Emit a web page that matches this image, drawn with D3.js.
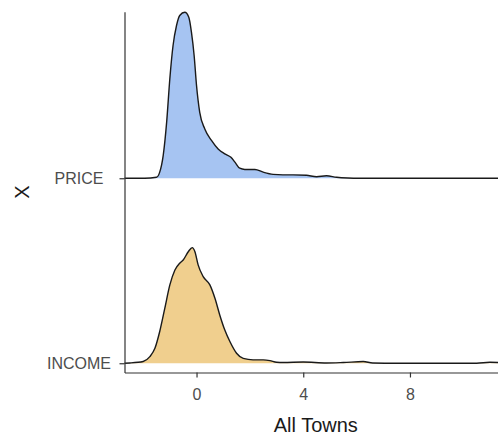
<!DOCTYPE html>
<html><head><meta charset="utf-8">
<script src="https://cdn.jsdelivr.net/npm/d3@7"></script>
<style>body{margin:0;background:#fff}svg{display:block}text{font-family:"Liberation Sans",Arial,sans-serif}</style>
</head><body>
<svg id="c" width="498" height="435"></svg>
<script>
const categories = ["INCOME", "PRICE"];
const colors = ["#f0cf8e", "#a6c4f2"];
const xTicks = [0, 4, 8];
const xTitle = "All Towns";
const yTitle = "X";
// density curves: [x, density]
const incomeDensity = [
  [-2.7,0],[-2.5,0.001],[-2.0,0.007],[-1.75,0.027],[-1.56,0.061],[-1.38,0.130],[-1.19,0.225],
  [-1.0,0.321],[-0.81,0.382],[-0.63,0.410],[-0.5,0.423],[-0.31,0.457],[-0.16,0.474],[-0.06,0.457],
  [0.06,0.403],[0.25,0.355],[0.5,0.321],[0.69,0.266],[0.87,0.198],[1.06,0.136],[1.25,0.089],
  [1.5,0.041],[1.75,0.020],[2.12,0.014],[2.5,0.014],[2.75,0.011],[3.0,0.004],[3.25,0.003],
  [4.0,0.005],[4.87,0.001],[5.5,0.003],[6.25,0.007],[6.6,0.001],[7.5,0],[10.5,0],[11.0,0.004],[11.3,0.003]
];
const priceDensity = [
  [-2.7,0],[-1.94,0],[-1.5,0.004],[-1.38,0.025],[-1.25,0.093],[-1.12,0.230],[-1.0,0.409],
  [-0.88,0.544],[-0.75,0.626],[-0.63,0.667],[-0.44,0.680],[-0.29,0.660],[-0.19,0.598],[-0.09,0.503],
  [0,0.380],[0.12,0.270],[0.31,0.202],[0.56,0.155],[0.81,0.120],[1.06,0.100],[1.29,0.086],
  [1.44,0.066],[1.62,0.041],[1.81,0.036],[2.19,0.036],[2.5,0.025],[2.87,0.016],[3.24,0.014],
  [3.62,0.014],[4.12,0.012],[4.5,0.006],[4.87,0.010],[5.25,0.004],[5.67,0.001],[6.1,0],[11.3,0]
];
const series = [incomeDensity, priceDensity];

const svg = d3.select("#c");
const mLeft = 124.5, mRight = 498, mTop = 11.75, mBottom = 372.5;
const x = d3.scaleLinear().domain([-2.7, 11.3]).range([mLeft, mRight]);
const y = d3.scaleLinear().domain([-0.05, 1.9]).range([mBottom, mTop]);
const maxD = d3.max(series.flat(), d => d[1]);
const ridgeScale = 0.897; // peak height relative to category spacing
const h = d3.scaleLinear().domain([0, maxD]).range([0, ridgeScale]);

const g = svg.append("g");
series.forEach((s, i) => {
  const area = d3.area().curve(d3.curveMonotoneX)
    .x(d => x(d[0])).y0(y(i)).y1(d => y(i + h(d[1])));
  const line = d3.line().curve(d3.curveMonotoneX)
    .x(d => x(d[0])).y(d => y(i + h(d[1])));
  g.append("path").datum(s).attr("d", area).attr("fill", colors[i]);
  g.append("path").datum(s).attr("d", line).attr("fill", "none")
    .attr("stroke", "#1a1a1a").attr("stroke-width", 1.4);
});

// axes
const xAxis = svg.append("g").attr("transform", `translate(0,${mBottom})`)
  .call(d3.axisBottom(x).tickValues(xTicks).tickSize(5).tickPadding(6).tickSizeOuter(0));
const yAxis = svg.append("g").attr("transform", `translate(${mLeft},0)`)
  .call(d3.axisLeft(y).tickValues([0, 1]).tickFormat(i => categories[i]).tickSize(5).tickPadding(8).tickSizeOuter(0));
[xAxis, yAxis].forEach(a => {
  a.select(".domain").attr("stroke", "#333").attr("stroke-width", 1.2);
  a.selectAll(".tick line").attr("stroke", "#333").attr("stroke-width", 1.2);
  a.selectAll(".tick text").attr("fill", "#4d4d4d").style("font-size", "16px")
    .style("font-family", '"Liberation Sans",Arial,sans-serif');
});
xAxis.selectAll(".tick text").attr("dy", null).attr("y", 27.5);
yAxis.selectAll(".tick text").attr("text-anchor", "middle").attr("x", 79 - mLeft).attr("dy", "0.35em");

svg.append("text").attr("x", 315.8).attr("y", 431.7).attr("text-anchor", "middle")
  .style("font-size", "20px").attr("fill", "#1a1a1a").text(xTitle);
svg.append("text").attr("transform", `translate(29,192) rotate(-90)`).attr("text-anchor", "middle")
  .style("font-size", "20px").attr("fill", "#1a1a1a").text(yTitle);
</script>
</body></html>
